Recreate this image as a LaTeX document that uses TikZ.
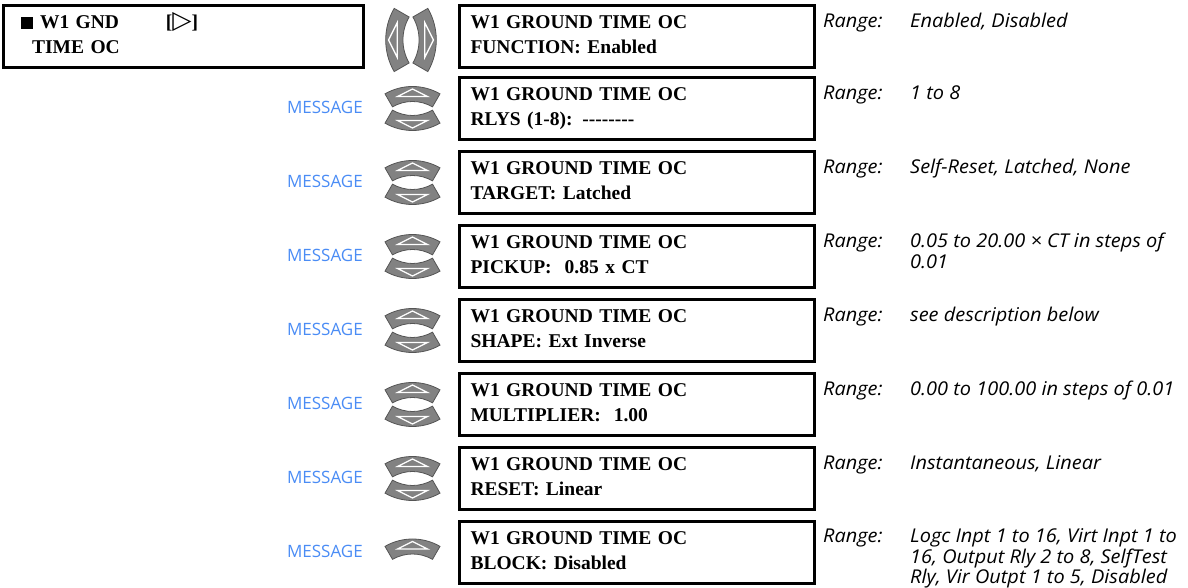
\documentclass[tikz,border=0pt]{standalone}
\usepackage{fontspec}
\setmainfont{Liberation Serif}
\newfontfamily\rangefont{Open Sans}
\newfontfamily\rangeitfont[FakeStretch=1.05]{Open Sans Italic}
\newfontfamily\symbfont{DejaVu Sans}

\definecolor{msgblue}{RGB}{74,140,245}
\definecolor{keygray}{RGB}{130,130,130}
\definecolor{keyline}{RGB}{85,85,85}

\tikzset{
  lcd/.style={draw,line width=3pt,minimum width=355pt,minimum height=62pt,
    inner xsep=11pt,text width=333pt,align=left,
    font=\fontsize{19.5}{25}\selectfont\bfseries},
  msg/.style={anchor=east,inner sep=0pt,text=msgblue,
    font=\rangefont\fontsize{17}{20}\selectfont},
  rangelbl/.style={anchor=base west,inner sep=0pt,
    font=\rangeitfont\fontsize{19}{21}\selectfont},
  keyfill/.style={fill=keygray,draw=keyline,line width=0.8pt},
  keymark/.style={draw=white,line width=1.3pt},
  upkey/.pic={
    \draw[keyfill] (27.5,14.63) arc[start angle=60,end angle=120,radius=55]
      -- (-20,1.64) arc[start angle=120,end angle=60,radius=40] -- cycle;
    \draw[keymark] (0,19.5) -- (15,12) -- (-15,12) -- cycle;
  },
  downkey/.pic={
    \draw[keyfill] (27.5,-14.63) arc[start angle=-60,end angle=-120,radius=55]
      -- (-20,-1.64) arc[start angle=-120,end angle=-60,radius=40] -- cycle;
    \draw[keymark] (0,-19.5) -- (15,-12) -- (-15,-12) -- cycle;
  }
}

\begin{document}
\begin{tikzpicture}[x=1pt,y=1pt]
\useasboundingbox (0,0) rectangle (1188,588);

% header
\node[lcd,minimum width=359.5pt,inner xsep=17.5pt,text width=324.5pt] (hdr) at (183.25,551.5)
  {\strut\rule{12pt}{12pt}\hspace{7pt}\makebox[126pt][l]{W1 GND}[{\symbfont\fontsize{25}{25}\selectfont ▷}]\\
   \hspace{11pt}TIME OC\strut};
\pic[rotate=90,scale=1.15] at (411,548) {upkey};
\pic[rotate=-90,scale=1.15] at (411,548) {upkey};

% settings
\node[lcd] (sfunc)   at (637,551.5) {\strut W1 GROUND TIME OC\\FUNCTION: Enabled\strut};
\node[lcd] (srlys)   at (637,479.5) {\strut W1 GROUND TIME OC\\RLYS (1-8): -{}-{}-{}-{}-{}-{}-{}-\strut};
\node[lcd] (starget) at (637,405.5) {\strut W1 GROUND TIME OC\\TARGET: Latched\strut};
\node[lcd] (spickup) at (637,331.5) {\strut W1 GROUND TIME OC\\PICKUP:\ \ 0.85 x CT\strut};
\node[lcd] (sshape)  at (637,257.5) {\strut W1 GROUND TIME OC\\SHAPE: Ext Inverse\strut};
\node[lcd] (smult)   at (637,183.5) {\strut W1 GROUND TIME OC\\MULTIPLIER:\ \ 1.00\strut};
\node[lcd] (sreset)  at (637,109.5) {\strut W1 GROUND TIME OC\\RESET: Linear\strut};
\node[lcd] (sblock)  at (637,35.5)  {\strut W1 GROUND TIME OC\\BLOCK: Disabled\strut};

% message keys
\foreach \y [count=\i] in {479.5,405.5,331.5,257.5,183.5,109.5}{
  \node[msg] (msg\i) at (363,\y+1) {MESSAGE};
  \pic at (412.5,\y) {upkey};
  \pic at (412.5,\y) {downkey};
}
\node[msg] (msg7) at (363,37) {MESSAGE};
\pic at (412.5,27) {upkey};

% ranges
\foreach \y [count=\i] in {560.5,488.5,414.5,340.5,266.5,192.5,118.5,45}{
  \node[rangelbl] (rng\i) at (823,\y) {Range:};
}
\node[rangelbl] (val1) at (910,560.5) {Enabled, Disabled};
\node[rangelbl] (val2) at (910,488.5) {1 to 8};
\node[rangelbl] (val3) at (910,414.5) {Self-Reset, Latched, None};
\node[rangelbl] (val4) at (910,340.5) {0.05 to 20.00 × CT in steps of};
\node[rangelbl] (val4b) at ([yshift=-21pt]val4.base west) {0.01};
\node[rangelbl] (val5) at (910,266.5) {see description below};
\node[rangelbl] (val6) at (910,192.5) {0.00 to 100.00 in steps of 0.01};
\node[rangelbl] (val7) at (910,118.5) {Instantaneous, Linear};
\node[rangelbl] (val8) at (910,45) {Logc Inpt 1 to 16, Virt Inpt 1 to};
\node[rangelbl] (val8b) at ([yshift=-20.5pt]val8.base west) {16, Output Rly 2 to 8, SelfTest};
\node[rangelbl] (val8c) at ([yshift=-20.5pt]val8b.base west) {Rly, Vir Outpt 1 to 5, Disabled};
\end{tikzpicture}
\end{document}
